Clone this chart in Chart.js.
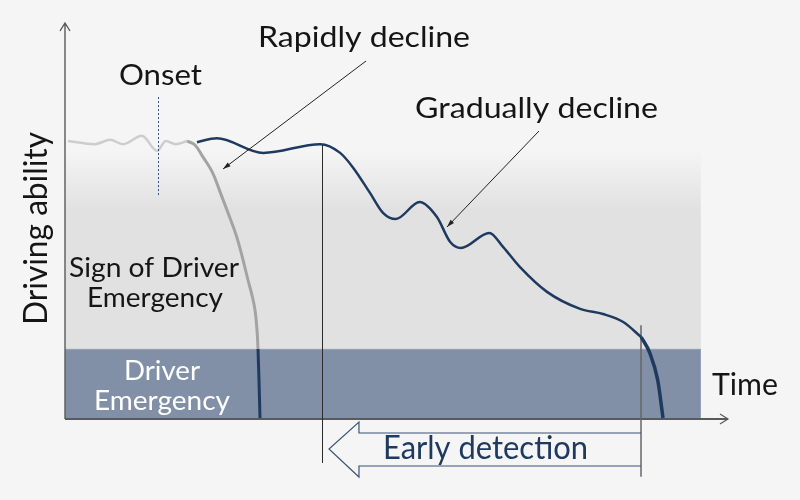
<!DOCTYPE html>
<html>
  <head>
    <meta charset="UTF-8" />
    <title>Driving ability over time</title>
    <style>
      body { margin: 0; background: #f5f5f5; }
      #myCanvas { display: block; }
    </style>
  </head>
  <body>
    <canvas id="myCanvas" width="800" height="500"></canvas>
    <script src="https://cdn.jsdelivr.net/npm/chart.js@4.4.1/dist/chart.umd.min.js"></script>
    <script>
      // time 0..100 (left -> right), driving ability 0..100 (bottom -> top)
      const waveTime    = [0.45, 4.5, 6.8, 8.75, 11.6, 13.9, 15.2, 16.7, 18.4];
      const waveAbility = [70.2, 69.4, 70.5, 69.4, 71.5, 67.7, 70.2, 69.4, 70.2];

      const rapidTime    = [18.4, 19.6, 20.8, 22.2, 23.4, 24.6, 25.9, 26.85, 27.6, 28.2, 28.66, 28.96, 29.11];
      const rapidAbility = [70.2, 69.2, 66.2, 62.4, 57.3, 52.0, 46.0, 40.2, 35.1, 31.3, 27.5, 22.5, 17.7];
      const rapidEndTime    = [29.11, 29.26, 29.41];
      const rapidEndAbility = [17.7, 9.8, 0.25];

      const gradualTime    = [19.9, 22.9, 29.9, 38.5, 41.5, 43.4, 46.0, 48.0, 49.9, 53.5, 56.1, 58.1, 59.7, 64.0, 66.1, 68.6, 72.7, 77.7, 81.15, 84.2, 86.9];
      const gradualAbility = [69.9, 70.9, 67.2, 69.4, 67.2, 63.6, 57.1, 52.0, 50.5, 54.8, 51.0, 44.7, 43.2, 47.0, 43.4, 38.4, 32.1, 27.8, 26.5, 24.5, 20.7];
      const gradualEndTime    = [86.9, 88.2, 89.4, 90.2];
      const gradualEndAbility = [20.7, 16.7, 9.8, 0.25];

      // zones: emergency band top, sign zone top, right edge of zones
      const emergencyTop = 17.7;
      const signTop = 67.9;
      const zoneEnd = 95.9;
      // onset marker: time, from, to
      const onsetTime = 14.0;
      const onsetRange = [56.3, 81.3];
      // detection markers: time, top, bottom
      const detectStart = [38.76, 69.4, -11.1];
      const detectEnd = [86.88, 23.7, -14.6];

      function pts(xs, ys) {
        return xs.map((x, i) => ({ x: x, y: ys[i] }));
      }

      const font = "Lato, 'Open Sans', sans-serif";

      function fitText(ctx, text, x, base, width, size, color) {
        ctx.save();
        ctx.font = size + "px " + font;
        ctx.fillStyle = color;
        ctx.textBaseline = "alphabetic";
        ctx.textAlign = "left";
        const w = ctx.measureText(text).width;
        ctx.translate(x, base);
        ctx.scale(width / w, 1);
        ctx.fillText(text, 0, 0);
        ctx.restore();
      }

      function pointer(ctx, x1, y1, x2, y2) {
        ctx.save();
        ctx.strokeStyle = "#222";
        ctx.fillStyle = "#222";
        ctx.lineWidth = 1;
        ctx.beginPath();
        ctx.moveTo(x1, y1);
        ctx.lineTo(x2, y2);
        ctx.stroke();
        const a = Math.atan2(y2 - y1, x2 - x1);
        ctx.beginPath();
        ctx.moveTo(x2, y2);
        ctx.lineTo(x2 - 8 * Math.cos(a - 0.3), y2 - 8 * Math.sin(a - 0.3));
        ctx.lineTo(x2 - 8 * Math.cos(a + 0.3), y2 - 8 * Math.sin(a + 0.3));
        ctx.closePath();
        ctx.fill();
        ctx.restore();
      }

      const backdrop = {
        id: "backdrop",
        beforeDatasetsDraw(chart) {
          const ctx = chart.ctx;
          const xs = chart.scales.x, ys = chart.scales.y;
          const a = chart.chartArea;
          const x0 = a.left, x1 = xs.getPixelForValue(zoneEnd);
          const yBand = ys.getPixelForValue(emergencyTop);
          const ySign = ys.getPixelForValue(signTop);
          ctx.save();
          const g = ctx.createLinearGradient(0, ySign, 0, ySign + 60);
          g.addColorStop(0, "#f5f5f5");
          g.addColorStop(1, "#e1e1e1");
          ctx.fillStyle = g;
          ctx.fillRect(x0, ySign, x1 - x0, yBand - ySign);
          ctx.fillStyle = "#8190a6";
          ctx.fillRect(x0, yBand, x1 - x0, a.bottom - yBand);
          ctx.fillStyle = "#97a3b5";
          ctx.fillRect(x0, yBand, x1 - x0, 1);

          // axes
          ctx.strokeStyle = "#5a5a5a";
          ctx.lineWidth = 1.4;
          ctx.beginPath();
          ctx.moveTo(a.left, a.bottom);
          ctx.lineTo(a.left, a.top);
          ctx.moveTo(a.left - 5, a.top + 8);
          ctx.lineTo(a.left, a.top);
          ctx.lineTo(a.left + 5, a.top + 8);
          ctx.stroke();
          ctx.lineWidth = 2;
          ctx.beginPath();
          ctx.moveTo(a.left, a.bottom);
          ctx.lineTo(a.right, a.bottom);
          ctx.stroke();
          ctx.lineWidth = 1.2;
          ctx.beginPath();
          ctx.moveTo(a.right - 8, a.bottom - 5);
          ctx.lineTo(a.right, a.bottom);
          ctx.lineTo(a.right - 8, a.bottom + 5);
          ctx.stroke();

          // detection markers
          ctx.strokeStyle = "#2b2b2b";
          ctx.lineWidth = 1;
          let px = Math.round(xs.getPixelForValue(detectStart[0])) + 0.5;
          ctx.beginPath();
          ctx.moveTo(px, ys.getPixelForValue(detectStart[1]));
          ctx.lineTo(px, ys.getPixelForValue(detectStart[2]));
          ctx.stroke();
          ctx.strokeStyle = "#666";
          ctx.lineWidth = 1.5;
          px = xs.getPixelForValue(detectEnd[0]);
          ctx.beginPath();
          ctx.moveTo(px, ys.getPixelForValue(detectEnd[1]));
          ctx.lineTo(px, ys.getPixelForValue(detectEnd[2]));
          ctx.stroke();
          ctx.restore();
        },
        afterDatasetsDraw(chart) {
          const ctx = chart.ctx;
          const xs = chart.scales.x, ys = chart.scales.y;
          ctx.save();
          // onset marker
          ctx.strokeStyle = "#3a5080";
          ctx.lineWidth = 1;
          ctx.setLineDash([2, 2]);
          const ox = Math.round(xs.getPixelForValue(onsetTime)) + 0.5;
          ctx.beginPath();
          ctx.moveTo(ox, ys.getPixelForValue(onsetRange[1]));
          ctx.lineTo(ox, ys.getPixelForValue(onsetRange[0]));
          ctx.stroke();
          ctx.setLineDash([]);

          // early detection arrow (pointing left)
          const tipX = xs.getPixelForValue(detectStart[0]) + 7;
          const headX = tipX + 30;
          const endX = xs.getPixelForValue(detectEnd[0]);
          const midY = 449, bodyT = 433, bodyB = 466, headT = 422, headB = 477;
          ctx.strokeStyle = "#3d5577";
          ctx.lineWidth = 1.2;
          ctx.beginPath();
          ctx.moveTo(endX, bodyT);
          ctx.lineTo(headX, bodyT);
          ctx.lineTo(headX, headT);
          ctx.lineTo(tipX, midY);
          ctx.lineTo(headX, headB);
          ctx.lineTo(headX, bodyB);
          ctx.lineTo(endX, bodyB);
          ctx.stroke();
          ctx.restore();

          pointer(ctx, 366, 61, 223, 169);
          pointer(ctx, 539, 131, 447, 227);

          fitText(ctx, "Rapidly decline", 258, 47, 212, 28, "#151515");
          fitText(ctx, "Onset", 119, 85, 83, 28, "#151515");
          fitText(ctx, "Gradually decline", 415, 118, 243, 29, "#151515");
          fitText(ctx, "Time", 712, 395, 66, 30, "#151515");
          fitText(ctx, "Sign of Driver", 69, 277, 170, 26, "#151515");
          fitText(ctx, "Emergency", 87, 307, 136, 26, "#151515");
          fitText(ctx, "Driver", 124, 380, 76, 26, "#ffffff");
          fitText(ctx, "Emergency", 94, 410, 136, 26, "#ffffff");
          fitText(ctx, "Early detection", 383, 459, 205, 32, "#1f3a60");

          ctx.save();
          ctx.translate(47, 325);
          ctx.rotate(-Math.PI / 2);
          fitText(ctx, "Driving ability", 0, 0, 193, 33, "#151515");
          ctx.restore();
        }
      };

      const line = (data, color, width, smooth) => ({
        data: data,
        showLine: true,
        borderColor: color,
        borderWidth: width,
        pointRadius: 0,
        cubicInterpolationMode: smooth || "monotone",
        tension: 0.4,
        clip: false
      });

      const ctx = document.getElementById("myCanvas").getContext("2d");
      const myChart = new Chart(ctx, {
        type: "scatter",
        data: {
          datasets: [
            line(pts(waveTime, waveAbility), "#cdcdcd", 2.5),
            line(pts(rapidTime, rapidAbility), "#a3a3a3", 3, "default"),
            line(pts(rapidEndTime, rapidEndAbility), "#1f3a5f", 3, "default"),
            line(pts(gradualTime, gradualAbility), "#1f3a5f", 2.5),
            line(pts(gradualEndTime, gradualEndAbility), "#1f3a5f", 3.5)
          ]
        },
        options: {
          responsive: false,
          animation: false,
          layout: { padding: { left: 65, right: 72, top: 23, bottom: 81 } },
          plugins: { legend: { display: false }, tooltip: { enabled: false } },
          scales: {
            x: { type: "linear", min: 0, max: 100, display: false },
            y: { type: "linear", min: 0, max: 100, display: false }
          }
        },
        plugins: [backdrop]
      });
    </script>
  </body>
</html>
